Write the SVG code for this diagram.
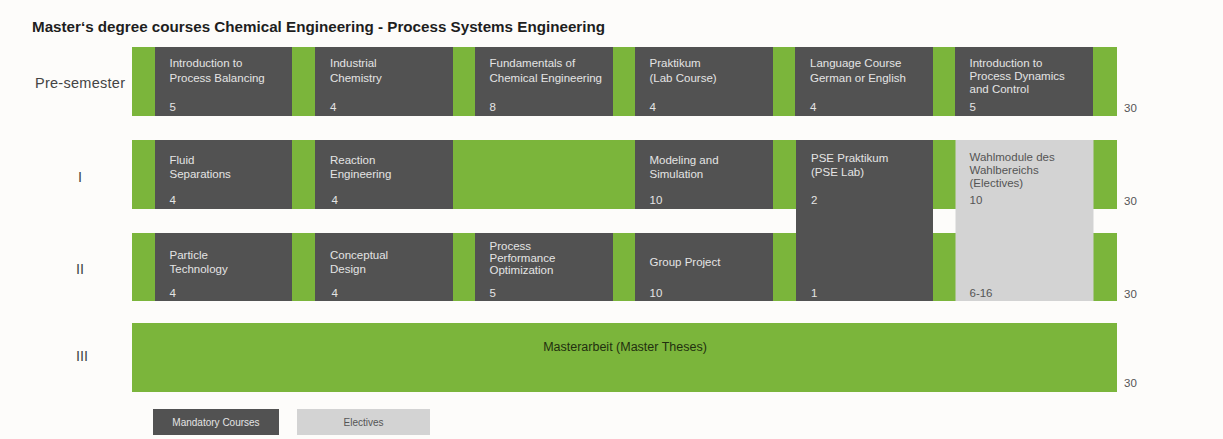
<svg xmlns="http://www.w3.org/2000/svg" width="1223" height="439" viewBox="0 0 1223 439">
<style>
text{font-family:"Liberation Sans",Arial,sans-serif}
.title{font-size:15px;font-weight:bold;fill:#1e1e1e}
.row{font-size:14.5px;fill:#444444}
.band{fill:#7bb53b}
.dark{fill:#525252}
.light{fill:#d3d3d3}
.t{font-size:11.5px;fill:#e4e4e4}
.tl{font-size:11.5px;fill:#555555}
.sum{font-size:11.5px;fill:#555555}
.leg{font-size:10px;text-anchor:middle}
.thesis{font-size:12.5px;fill:#22300f;text-anchor:middle}
</style>
<rect width="1223" height="439" fill="#fdfcfa"/>
<text class="title" x="32" y="32" textLength="573" lengthAdjust="spacingAndGlyphs">Master‘s degree courses Chemical Engineering - Process Systems Engineering</text>

<g id="labels">
<text class="row" x="35" y="88" textLength="90">Pre-semester</text>
<text class="row" x="80" y="182" text-anchor="middle" fill="#444444">I</text>
<text class="row" x="80" y="274" text-anchor="middle" fill="#444444">II</text>
<text class="row" x="82" y="361" text-anchor="middle" fill="#444444">III</text>
</g>

<g id="bands">
<rect class="band" x="132" y="47" width="985" height="69"/>
<rect class="band" x="132" y="140" width="985" height="69"/>
<rect class="band" x="132" y="233" width="985" height="68"/>
</g>

<g id="pre-1"><rect class="dark" x="155" y="47" width="137" height="69"/>
<text class="t" x="169.5" y="67">Introduction to</text><text class="t" x="169.5" y="81.5">Process Balancing</text><text class="t" x="169.5" y="111">5</text></g>
<g id="pre-2"><rect class="dark" x="315" y="47" width="138" height="69"/>
<text class="t" x="330" y="67">Industrial</text><text class="t" x="330" y="81.5">Chemistry</text><text class="t" x="330" y="111">4</text></g>
<g id="pre-3"><rect class="dark" x="475" y="47" width="138" height="69"/>
<text class="t" x="489.5" y="67">Fundamentals of</text><text class="t" x="489.5" y="81.5">Chemical Engineering</text><text class="t" x="489.5" y="111">8</text></g>
<g id="pre-4"><rect class="dark" x="635" y="47" width="138" height="69"/>
<text class="t" x="649.5" y="67">Praktikum</text><text class="t" x="649.5" y="81.5">(Lab Course)</text><text class="t" x="649.5" y="111">4</text></g>
<g id="pre-5"><rect class="dark" x="795" y="47" width="138" height="69"/>
<text class="t" x="810" y="67">Language Course</text><text class="t" x="810" y="81.5">German or English</text><text class="t" x="810" y="111">4</text></g>
<g id="pre-6"><rect class="dark" x="955" y="47" width="138" height="69"/>
<text class="t" x="969.5" y="67">Introduction to</text><text class="t" x="969.5" y="80">Process Dynamics</text><text class="t" x="969.5" y="93">and Control</text><text class="t" x="969.5" y="111">5</text></g>

<g id="s1-1"><rect class="dark" x="155" y="140" width="137" height="69"/>
<text class="t" x="169.5" y="164">Fluid</text><text class="t" x="169.5" y="178">Separations</text><text class="t" x="169.5" y="204">4</text></g>
<g id="s1-2"><rect class="dark" x="315" y="140" width="138" height="69"/>
<text class="t" x="330" y="164">Reaction</text><text class="t" x="330" y="178">Engineering</text><text class="t" x="331.5" y="204">4</text></g>
<g id="s1-4"><rect class="dark" x="635" y="140" width="138" height="69"/>
<text class="t" x="649.5" y="164">Modeling and</text><text class="t" x="649.5" y="178">Simulation</text><text class="t" x="649.5" y="204">10</text></g>

<g id="pse-lab"><rect class="dark" x="796" y="140" width="137" height="161"/>
<text class="t" x="811" y="161.5">PSE Praktikum</text><text class="t" x="811" y="175.5">(PSE Lab)</text><text class="t" x="811" y="204">2</text><text class="t" x="811" y="297">1</text></g>
<g id="electives"><rect class="light" x="955.5" y="140" width="138" height="161"/>
<text class="tl" x="969.5" y="161">Wahlmodule des</text><text class="tl" x="969.5" y="174">Wahlbereichs</text><text class="tl" x="969.5" y="187">(Electives)</text><text class="tl" x="969.5" y="204">10</text><text class="tl" x="969.5" y="297">6-16</text></g>

<g id="s2-1"><rect class="dark" x="155" y="233" width="137" height="68"/>
<text class="t" x="169.5" y="259">Particle</text><text class="t" x="169.5" y="273">Technology</text><text class="t" x="169.5" y="297">4</text></g>
<g id="s2-2"><rect class="dark" x="315" y="233" width="138" height="68"/>
<text class="t" x="330" y="259">Conceptual</text><text class="t" x="330" y="273">Design</text><text class="t" x="331.5" y="297">4</text></g>
<g id="s2-3"><rect class="dark" x="475" y="233" width="138" height="68"/>
<text class="t" x="489.5" y="249.5">Process</text><text class="t" x="489.5" y="261.8">Performance</text><text class="t" x="489.5" y="274">Optimization</text><text class="t" x="489.5" y="297">5</text></g>
<g id="s2-4"><rect class="dark" x="635" y="233" width="138" height="68"/>
<text class="t" x="649.5" y="266">Group Project</text><text class="t" x="649.5" y="297">10</text></g>

<g id="thesis"><rect class="band" x="132" y="323" width="985" height="69"/>
<text class="thesis" x="625" y="351">Masterarbeit (Master Theses)</text></g>

<g id="totals">
<text class="sum" x="1124" y="112">30</text>
<text class="sum" x="1124" y="205">30</text>
<text class="sum" x="1124" y="298">30</text>
<text class="sum" x="1124" y="387">30</text>
</g>

<g id="legend-mandatory"><rect class="dark" x="153" y="409" width="126" height="26"/>
<text class="leg" x="216" y="425.5" fill="#e4e4e4">Mandatory Courses</text></g>
<g id="legend-electives"><rect class="light" x="297" y="409" width="133" height="26"/>
<text class="leg" x="363.5" y="425.5" fill="#555555">Electives</text></g>
</svg>
